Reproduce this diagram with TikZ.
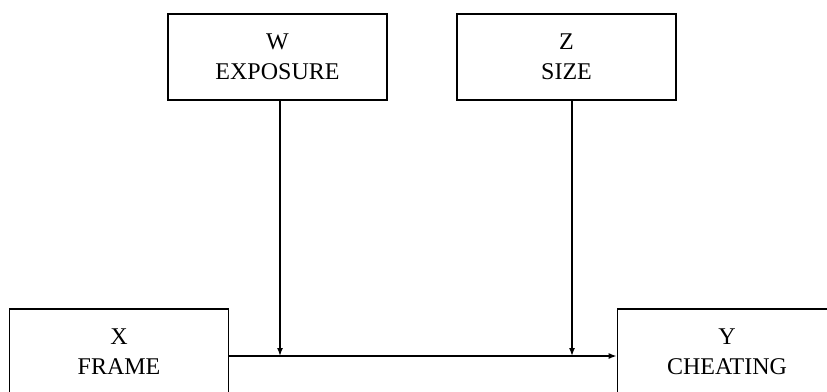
\documentclass[tikz,border=0pt]{standalone}
\usepackage{fontspec}
\setmainfont{Liberation Serif}
\usetikzlibrary{arrows.meta}
\begin{document}
\begin{tikzpicture}[x=1pt,y=-1pt,
  box/.style={draw=black,line width=1.6pt,rectangle,minimum width=219pt,minimum height=86pt,
    align=center,inner sep=0pt,font=\fontsize{24}{30}\selectfont},
  conn/.style={line width=1.5pt,-{Latex[length=8pt,width=6pt]}}]
\useasboundingbox (0,0) rectangle (827,391);
\clip (0,0) rectangle (827,391);
\fill[white] (0,0) rectangle (827,391);
\node[box] (W) at (277.5,57) {W\\EXPOSURE};
\node[box] (Z) at (566.5,57) {Z\\SIZE};
\node[box] (X) at (119,352) {X\\FRAME};
\node[box] (Y) at (727,352) {Y\\CHEATING};
\coordinate (m1) at (280,356);
\coordinate (m2) at (572,356);
\draw[conn] (X.east |- m1) -- (Y.west |- m1);
\draw[conn] (W.south -| m1) -- (m1);
\draw[conn] (Z.south -| m2) -- (m2);
\end{tikzpicture}
\end{document}
